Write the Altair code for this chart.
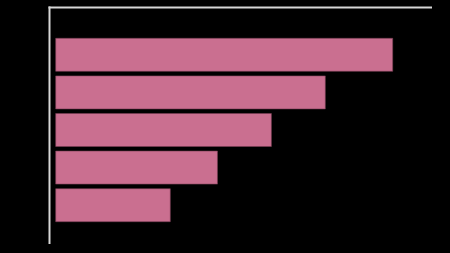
import altair as alt
import pandas as pd

categories = ["A", "B", "C", "D", "E"]
values = [100, 80, 64, 48, 34]

df = pd.DataFrame({"category": categories, "value": values})
one = pd.DataFrame({"k": [0]})

bars = alt.Chart(df).mark_bar(
    color="#ca6f90", stroke="#7a3f55", strokeWidth=0.6
).encode(
    x=alt.X("value:Q", scale=alt.Scale(domain=[0, 100], range=[55.7, 392.7]), axis=None),
    y=alt.Y("category:N", sort=categories,
            scale=alt.Scale(range=[38.3, 221.7], paddingInner=0.122, paddingOuter=0),
            axis=None),
)

top_line = alt.Chart(one).mark_rule(color="#d6d6d6", strokeWidth=2).encode(
    x=alt.value(48.5), x2=alt.value(432), y=alt.value(7.5)
)
left_line = alt.Chart(one).mark_rule(color="#d6d6d6", strokeWidth=2).encode(
    x=alt.value(49.5), y=alt.value(6.5), y2=alt.value(244)
)

chart = alt.layer(bars, top_line, left_line).properties(
    width=450, height=253, padding=0,
    autosize=alt.AutoSizeParams(type="none"),
    background="black",
).configure_view(stroke=None)

chart.save("out.html", embed_options={"renderer": "svg", "actions": False})
